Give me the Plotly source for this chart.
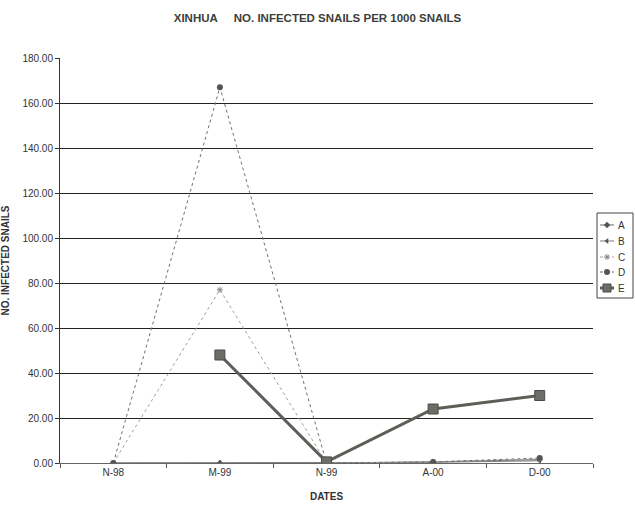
import plotly.graph_objects as go

dates = ["N-98", "M-99", "N-99", "A-00", "D-00"]
series_names = ["A", "B", "C", "D", "E"]
vals_A = [0.0, 0.0, 0.0, 0.5, 1.5]
vals_B = [0.0, 0.0, 0.0, 0.3, 1.0]
vals_C = [0.0, 77.0, 0.0, 0.5, 1.8]
vals_D = [0.0, 167.0, 0.0, 0.5, 2.2]
vals_E = [None, 48.0, 0.5, 24.0, 30.0]
y_ticks = [0, 20, 40, 60, 80, 100, 120, 140, 160, 180]

font_fam = "Liberation Sans, Arial"

styles = {
    "A": dict(line=dict(color="#6a6a6a", width=1),
              marker=dict(symbol="diamond", size=5, color="#555555")),
    "B": dict(line=dict(color="#7a7a7a", width=1),
              marker=dict(symbol="triangle-left", size=5, color="#555555")),
    "C": dict(line=dict(color="#a0a0a0", width=1, dash="dot"),
              marker=dict(symbol="asterisk-open", size=5, color="#888888",
                          line=dict(width=1, color="#888888"))),
    "D": dict(line=dict(color="#707070", width=1, dash="dot"),
              marker=dict(symbol="circle", size=6, color="#555555")),
    "E": dict(line=dict(color="#5c5f58", width=3),
              marker=dict(symbol="square", size=10, color="#6b6e66",
                          line=dict(width=1, color="#4a4d47"))),
}
values = {"A": vals_A, "B": vals_B, "C": vals_C, "D": vals_D, "E": vals_E}

fig = go.Figure()
for name in series_names:
    fig.add_trace(go.Scatter(x=dates, y=values[name], name=name, mode="lines+markers",
                             connectgaps=False, showlegend=False,
                             xaxis="x", yaxis="y", **styles[name]))

# custom compact legend drawn in its own small axes
leg_rows = [12, 28, 44, 59, 75]
for name, ry in zip(series_names, leg_rows):
    st = styles[name]
    mk = dict(st["marker"])
    if name == "E":
        mk = dict(mk, size=8)
    fig.add_trace(go.Scatter(x=[3, 10, 17], y=[ry, ry, ry], mode="lines",
                             line=st["line"], showlegend=False, hoverinfo="skip",
                             xaxis="x2", yaxis="y2"))
    fig.add_trace(go.Scatter(x=[10], y=[ry], mode="markers", marker=mk,
                             showlegend=False, hoverinfo="skip",
                             xaxis="x2", yaxis="y2"))
    fig.add_annotation(x=19, y=ry, xref="x2", yref="y2", text=name, showarrow=False,
                       xanchor="left", yanchor="middle",
                       font=dict(size=10, color="#333333"))

fig.add_shape(type="rect", xref="x2 domain", yref="y2 domain", x0=0, x1=1, y0=0, y1=1,
              line=dict(color="#444444", width=1))

fig.update_layout(
    width=635, height=506,
    margin=dict(l=60, r=2, t=58, b=43, autoexpand=False),
    paper_bgcolor="white", plot_bgcolor="white",
    font=dict(family=font_fam, color="#333333", size=10),
    title=dict(text="XINHUA&nbsp;&nbsp;&nbsp;&nbsp;&nbsp;NO. INFECTED SNAILS PER 1000 SNAILS",
               xref="container", x=0.5, xanchor="center", y=0.965, yanchor="middle",
               font=dict(family=font_fam, size=11.5, color="#3b3f3b", weight="bold")),
    showlegend=False,
    xaxis=dict(
        domain=[0, 533 / 573],
        type="category", categoryorder="array", categoryarray=dates,
        tickson="boundaries", ticks="outside", ticklen=4, tickcolor="#555555",
        showline=True, linecolor="#666666", linewidth=1, showgrid=False,
        tickfont=dict(size=10, color="#333333"), automargin=False,
        title=dict(text="DATES", font=dict(size=10, weight="bold", color="#333333")),
        range=[-0.5, 4.5],
    ),
    yaxis=dict(
        range=[0, 180], tickvals=y_ticks, tickformat=".2f",
        ticks="outside", ticklen=4, tickcolor="#333333",
        showline=True, linecolor="#333333", linewidth=1,
        showgrid=True, gridcolor="#222222", gridwidth=1, zeroline=False,
        tickfont=dict(size=10, color="#333333"), automargin=False,
        title=dict(text="NO. INFECTED SNAILS", font=dict(size=10, weight="bold", color="#333333")),
    ),
    xaxis2=dict(domain=[537 / 573, 1.0], range=[0, 36], visible=False, fixedrange=True,
                anchor="y2"),
    yaxis2=dict(domain=[165 / 405, 250 / 405], range=[85, 0], visible=False, fixedrange=True,
                anchor="x2"),
)

fig.write_html("out.html", config={"displayModeBar": False},
               post_script="document.body.style.margin='0';document.body.style.overflow='hidden';")
